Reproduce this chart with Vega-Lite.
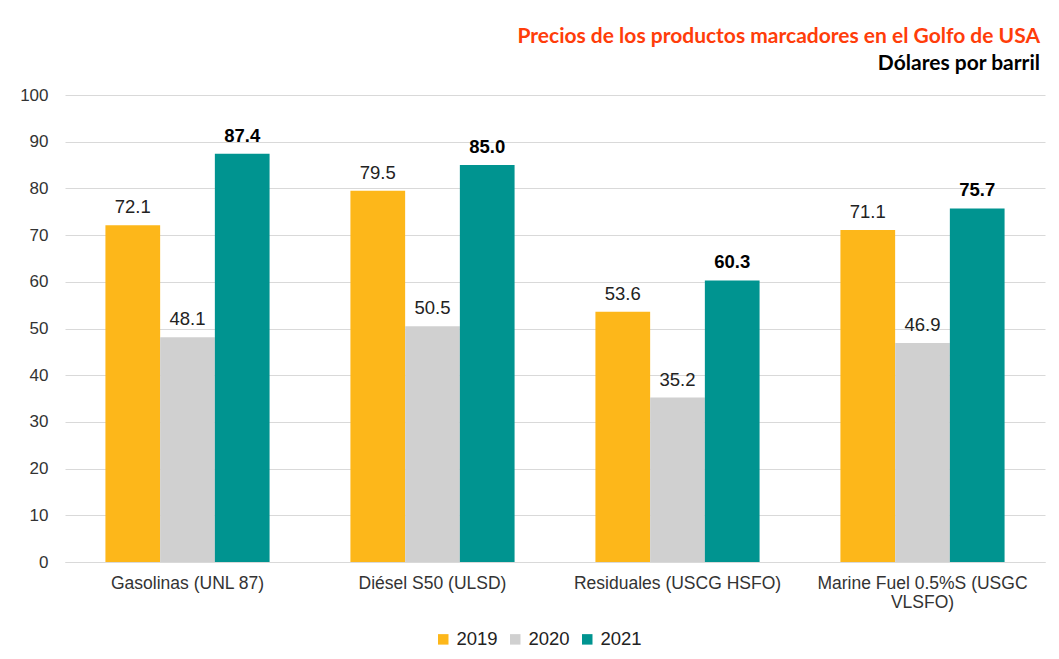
{
  "$schema": "https://vega.github.io/schema/vega-lite/v6.json",
  "autosize": {"type": "none"},
  "width": 980,
  "height": 467,
  "padding": {"left": 65, "top": 95, "right": 14, "bottom": 97},
  "background": "white",
  "config": {
    "font": "Liberation Sans",
    "view": {"stroke": null}
  },
  "title": {
    "text": "Precios de los productos marcadores en el Golfo de USA",
    "subtitle": "Dólares por barril",
    "anchor": "end",
    "frame": "group",
    "font": "Lato",
    "fontSize": 21,
    "fontWeight": "bold",
    "color": "#FF3D0A",
    "subtitleFont": "Lato",
    "subtitleFontSize": 21,
    "subtitleFontWeight": "bold",
    "subtitleColor": "#000000",
    "subtitlePadding": 6,
    "offset": 12,
    "dx": -5
  },
  "data": {
    "values": [
      {"product": "Gasolinas (UNL 87)", "year": "2019", "value": 72.1},
      {"product": "Gasolinas (UNL 87)", "year": "2020", "value": 48.1},
      {"product": "Gasolinas (UNL 87)", "year": "2021", "value": 87.4},
      {"product": "Diésel S50 (ULSD)", "year": "2019", "value": 79.5},
      {"product": "Diésel S50 (ULSD)", "year": "2020", "value": 50.5},
      {"product": "Diésel S50 (ULSD)", "year": "2021", "value": 85.0},
      {"product": "Residuales (USCG HSFO)", "year": "2019", "value": 53.6},
      {"product": "Residuales (USCG HSFO)", "year": "2020", "value": 35.2},
      {"product": "Residuales (USCG HSFO)", "year": "2021", "value": 60.3},
      {"product": "Marine Fuel 0.5%S (USGC VLSFO)", "year": "2019", "value": 71.1},
      {"product": "Marine Fuel 0.5%S (USGC VLSFO)", "year": "2020", "value": 46.9},
      {"product": "Marine Fuel 0.5%S (USGC VLSFO)", "year": "2021", "value": 75.7}
    ]
  },
  "encoding": {
    "x": {
      "field": "product",
      "type": "nominal",
      "sort": null,
      "scale": {"paddingInner": 0.33, "paddingOuter": 0.165},
      "axis": {
        "title": null,
        "labelAngle": 0,
        "labelFontSize": 17.5,
        "labelColor": "#333333",
        "labelPadding": 12,
        "ticks": false,
        "domainColor": "#D9D9D9",
        "labelLimit": 300,
        "labelExpr": "datum.value == 'Marine Fuel 0.5%S (USGC VLSFO)' ? ['Marine Fuel 0.5%S (USGC', 'VLSFO)'] : datum.value"
      }
    },
    "xOffset": {"field": "year", "type": "nominal", "scale": {"paddingInner": 0, "paddingOuter": 0}},
    "y": {
      "field": "value",
      "type": "quantitative",
      "scale": {"domain": [0, 100]},
      "axis": {
        "title": null,
        "values": [0, 10, 20, 30, 40, 50, 60, 70, 80, 90, 100],
        "labelFontSize": 17,
        "labelColor": "#333333",
        "labelPadding": 17,
        "ticks": false,
        "domain": false,
        "gridColor": "#D9D9D9"
      }
    }
  },
  "layer": [
    {
      "mark": {"type": "bar"},
      "encoding": {
        "color": {
          "field": "year",
          "type": "nominal",
          "scale": {"domain": ["2019", "2020", "2021"], "range": ["#FDB71A", "#D0D0D0", "#009490"]},
          "legend": {
            "title": null,
            "orient": "none",
            "direction": "horizontal",
            "legendX": 369,
            "legendY": 535,
            "symbolType": "square",
            "symbolSize": 110,
            "symbolStrokeWidth": 0,
            "labelFontSize": 18.5,
            "labelColor": "#222222",
            "labelOffset": 4,
            "columnPadding": 8
          }
        }
      }
    },
    {
      "transform": [{"filter": "datum.year != '2021'"}],
      "mark": {"type": "text", "baseline": "bottom", "dy": -8, "fontSize": 18.5, "color": "#222222"},
      "encoding": {"text": {"field": "value", "type": "quantitative", "format": ".1f"}}
    },
    {
      "transform": [{"filter": "datum.year == '2021'"}],
      "mark": {"type": "text", "baseline": "bottom", "dy": -8, "fontSize": 18.5, "fontWeight": "bold", "color": "#000000"},
      "encoding": {"text": {"field": "value", "type": "quantitative", "format": ".1f"}}
    }
  ]
}
